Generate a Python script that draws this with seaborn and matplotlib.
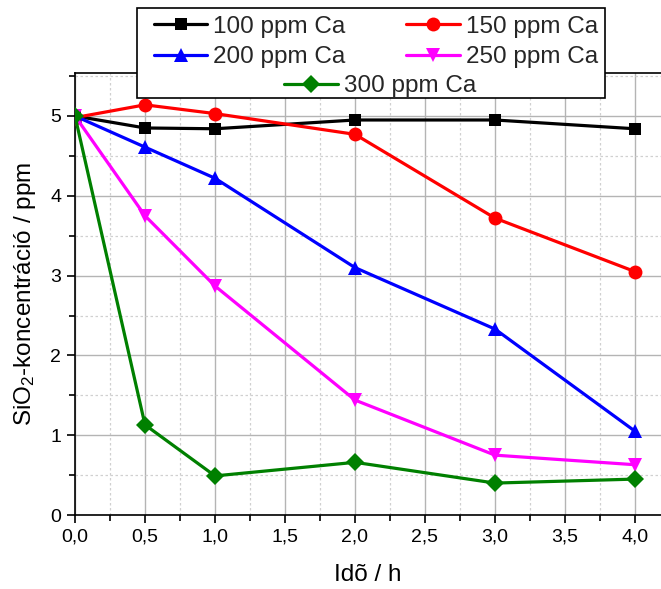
import numpy as np
import pandas as pd
import matplotlib
matplotlib.use("Agg")
import matplotlib.pyplot as plt
import seaborn as sns
from matplotlib.ticker import MultipleLocator, FuncFormatter
from matplotlib.patches import Rectangle
from matplotlib.lines import Line2D

# ---- data ----
time_h = [0.0, 0.5, 1.0, 2.0, 3.0, 4.0]
ca_100 = [5.00, 4.85, 4.84, 4.95, 4.95, 4.84]
ca_150 = [4.98, 5.14, 5.03, 4.77, 3.72, 3.05]
ca_200 = [5.00, 4.61, 4.22, 3.10, 2.33, 1.05]
ca_250 = [5.00, 3.75, 2.87, 1.44, 0.75, 0.63]
ca_300 = [5.00, 1.13, 0.49, 0.66, 0.40, 0.45]
series_names = ["100 ppm Ca", "150 ppm Ca", "200 ppm Ca", "250 ppm Ca", "300 ppm Ca"]
series_values = [ca_100, ca_150, ca_200, ca_250, ca_300]
colors = ["#000000", "#FF0000", "#0000FF", "#FF00FF", "#008000"]
marker_list = ["s", "o", "^", "v", "D"]
marker_sizes = [9, 10, 10.5, 10.5, 9]

rows = []
for name, vals in zip(series_names, series_values):
    for t, v in zip(time_h, vals):
        rows.append({"t": t, "c": v, "series": name})
df = pd.DataFrame(rows)

sns.set_theme(style="white")
plt.rcParams["font.family"] = ["Liberation Sans", "DejaVu Sans"]
plt.rcParams["mathtext.fontset"] = "custom"
plt.rcParams["mathtext.rm"] = "Liberation Sans"
plt.rcParams["mathtext.it"] = "Liberation Sans"

fig = plt.figure(figsize=(6.61, 5.89), dpi=100)
ax = fig.add_axes([75 / 661, 74 / 589, 586 / 661, 442 / 589])

sns.lineplot(data=df, x="t", y="c", hue="series", style="series",
             palette=dict(zip(series_names, colors)),
             markers=dict(zip(series_names, marker_list)),
             dashes=False, linewidth=2.3, markersize=9, markeredgewidth=0,
             ax=ax, legend=False, zorder=3)
for line, ms in zip(ax.get_lines(), marker_sizes):
    line.set_markersize(ms)

ax.set_xlim(0, 586 / 140)
ax.set_ylim(0, 442 / 79.8)
ax.xaxis.set_major_locator(MultipleLocator(0.5))
ax.xaxis.set_minor_locator(MultipleLocator(0.25))
ax.yaxis.set_major_locator(MultipleLocator(1))
ax.yaxis.set_minor_locator(MultipleLocator(0.5))
ax.xaxis.set_major_formatter(FuncFormatter(lambda v, p: f"{v:.1f}".replace(".", ",")))
ax.yaxis.set_major_formatter(FuncFormatter(lambda v, p: f"{v:.0f}"))

ax.grid(which="major", color="#B4B4B4", linewidth=1.0, linestyle="-", zorder=0)
ax.grid(which="minor", color="#D0D0D0", linewidth=0.9, linestyle=(0, (2, 2)), zorder=0)
ax.set_axisbelow(True)

for s in ["left", "bottom", "top"]:
    ax.spines[s].set_color("black")
    ax.spines[s].set_linewidth(1.2)
ax.spines["right"].set_visible(False)

ax.tick_params(which="major", direction="out", length=6, width=1.2, color="black",
               labelsize=14, labelcolor="black", left=True, bottom=True, pad=4)
ax.tick_params(which="minor", direction="out", length=4, width=1.2, color="black",
               left=True, bottom=True)

ax.set_xlabel("Idõ / h", fontsize=17.5, labelpad=13, color="black")
ax.set_ylabel("SiO$_{2}$-koncentráció / ppm", fontsize=17.5, labelpad=9, color="black")

# legend
handles = [Line2D([], [], color=c, marker=m, markersize=ms, linewidth=2.3,
                  markeredgewidth=0)
           for c, m, ms in zip(colors, marker_list, marker_sizes)]
fig.add_artist(Rectangle((137 / 661, 1 - 98 / 589), 468 / 661, 90 / 589,
                         transform=fig.transFigure, facecolor="white",
                         edgecolor="black", linewidth=1.2, zorder=4))
leg_kw = dict(frameon=False, fontsize=17.5, handlelength=2.2, handletextpad=0.25,
              borderpad=0, borderaxespad=0, labelspacing=0.35, columnspacing=2.5)
order = [0, 2, 1, 3]
fig.legend([handles[i] for i in order], [series_names[i] for i in order],
           ncol=2, loc="center", bbox_to_anchor=(376 / 661, 1 - 42 / 589), **leg_kw)
fig.legend(handles[4:], series_names[4:], ncol=1, loc="center",
           bbox_to_anchor=(380 / 661, 1 - 86 / 589), **leg_kw)

fig.savefig("out.png", dpi=100)
